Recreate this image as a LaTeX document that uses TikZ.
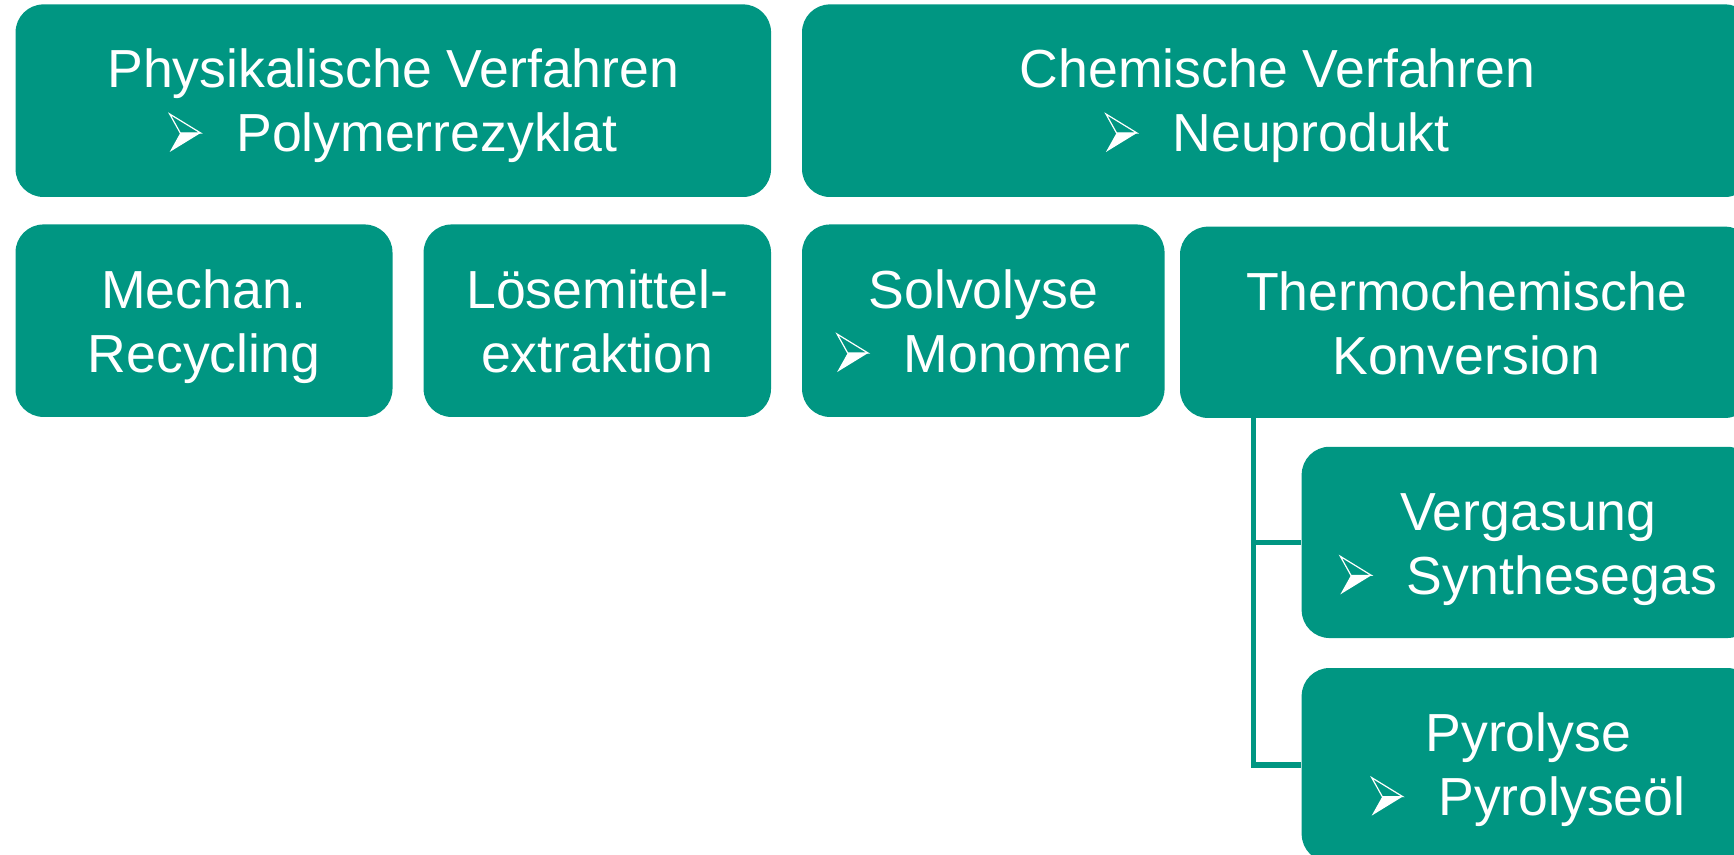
\documentclass[tikz,border=0pt]{standalone}
\usepackage{fontspec}
\setmainfont{Liberation Sans}
\definecolor{kit}{RGB}{0,150,130}
\newcommand{\arrbullet}{\tikz[baseline=0pt,x=0.5pt,y=0.5pt]{\draw[white,line width=0.6pt,line join=miter] (0,38)--(31,19)--(10.6,19)--cycle; \fill[white] (10.6,19)--(31,19)--(0,0)--cycle;}}
\newcommand{\bl}[1]{\arrbullet\hspace{17.5pt}#1}
\begin{document}
\begin{tikzpicture}[x=0.5pt,y=-0.5pt,
  box/.style={rectangle, rounded corners=14pt, fill=kit, inner sep=0pt},
  lbl/.style={text=white, align=center, anchor=base, inner sep=0pt, font=\fontsize{26.8pt}{32pt}\selectfont},
  conn/.style={draw=kit, line width=2.6pt}]
\useasboundingbox (0,0) rectangle (1734,855);
\clip (0,0) rectangle (1734,855);
% boxes
\node[box, minimum width=377.75pt, minimum height=96.3pt] (phys) at (393.3,100.7) {};
\node[box, minimum width=475.5pt, minimum height=96.3pt] (chem) at (1277.5,100.7) {};
\node[box, minimum width=188.5pt, minimum height=96.25pt] (mech) at (204,320.7) {};
\node[box, minimum width=173.7pt, minimum height=96.25pt] (loes) at (597.3,320.7) {};
\node[box, minimum width=181.25pt, minimum height=96.25pt] (solv) at (983.3,320.7) {};
\node[box, minimum width=286.5pt, minimum height=95.65pt] (thermo) at (1466.5,322.3) {};
\node[box, minimum width=226.65pt, minimum height=95.65pt] (verg) at (1528.3,542.4) {};
\node[box, minimum width=226.65pt, minimum height=97pt] (pyro) at (1528.3,765) {};
% labels (base anchor = baseline of the last line)
\node[lbl] (physT) at ([yshift=-74pt]phys.north) {Physikalische Verfahren\\\bl{Polymerrezyklat}};
\node[lbl] (chemT) at ([yshift=-74pt]chem.north) {Chemische Verfahren\\\bl{Neuprodukt}};
\node[lbl] (mechT) at ([yshift=-74pt]mech.north) {Mechan.\\Recycling};
\node[lbl] (loesT) at ([yshift=-74pt]loes.north) {Lösemittel-\\extraktion};
\node[lbl] (solvT) at ([yshift=-74pt]solv.north) {Solvolyse\\\bl{Monomer}};
\node[lbl] (thermoT) at ([yshift=-74pt]thermo.north) {Thermochemische\\Konversion};
\node[lbl] (vergT) at ([yshift=-74pt]verg.north) {Vergasung\\\bl{Synthesegas}};
\node[lbl] (pyroT) at ([yshift=-74pt]pyro.north) {Pyrolyse\\\bl{Pyrolyseöl}};
% connectors
\coordinate (trunk) at ([xshift=37pt]thermo.south west);
\draw[conn] (trunk) |- (verg.west);
\draw[conn] (trunk) |- (pyro.west);
\end{tikzpicture}
\end{document}
